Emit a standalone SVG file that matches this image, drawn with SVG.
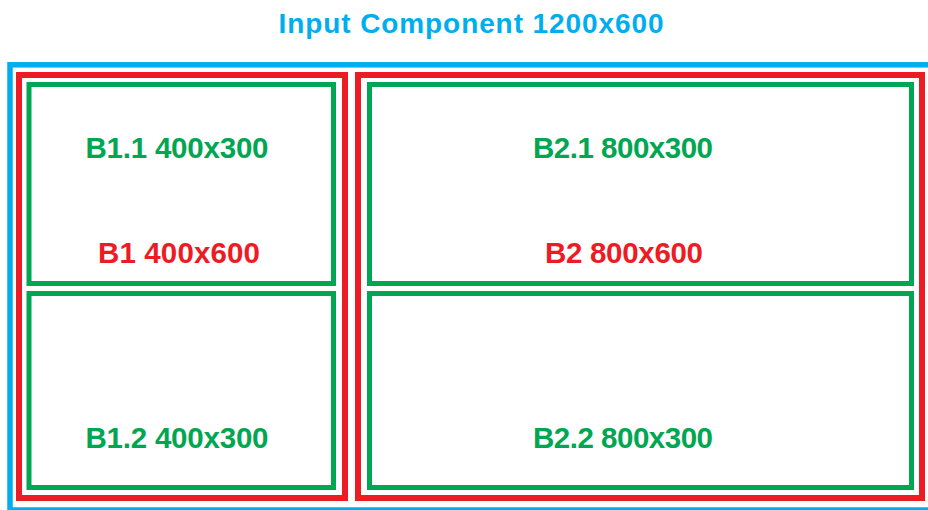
<svg xmlns="http://www.w3.org/2000/svg" width="928" height="510" viewBox="0 0 928 510">
<style>
.blue{fill:none;stroke:#00AEEF;stroke-width:5.5}
.red{fill:none;stroke:#ED1C24;stroke-width:6}
.green{fill:none;stroke:#00A651;stroke-width:5}
text{font-family:"Liberation Sans",Arial,sans-serif;font-weight:bold;text-anchor:middle}
.tb{fill:#00AEEF;font-size:28px}
.tr{fill:#ED1C24;font-size:29.5px}
.tg{fill:#00A651;font-size:29.5px}
</style>
<rect width="928" height="510" fill="#fff"/>
<g id="input">
<rect class="blue" x="10" y="64.8" width="925" height="445.2"/>
<text class="tb" x="471" y="33" textLength="385">Input Component 1200x600</text>
</g>
<g id="B1">
<rect class="red" x="19" y="75" width="326" height="423"/>
<text class="tr" x="179" y="263" textLength="162">B1 400x600</text>
</g>
<g id="B1.1">
<rect class="green" x="29" y="84.5" width="304.5" height="199"/>
<text class="tg" x="177" y="158" textLength="183">B1.1 400x300</text>
</g>
<g id="B1.2">
<rect class="green" x="29" y="293.5" width="304.5" height="194"/>
<text class="tg" x="177" y="448" textLength="183">B1.2 400x300</text>
</g>
<g id="B2">
<rect class="red" x="358" y="75" width="564" height="423"/>
<text class="tr" x="624" y="263" textLength="158">B2 800x600</text>
</g>
<g id="B2.1">
<rect class="green" x="369.5" y="84.5" width="542" height="199"/>
<text class="tg" x="623" y="158" textLength="180">B2.1 800x300</text>
</g>
<g id="B2.2">
<rect class="green" x="369.5" y="293.5" width="542" height="194"/>
<text class="tg" x="623" y="448" textLength="180">B2.2 800x300</text>
</g>
<g id="connectors"></g>
</svg>
